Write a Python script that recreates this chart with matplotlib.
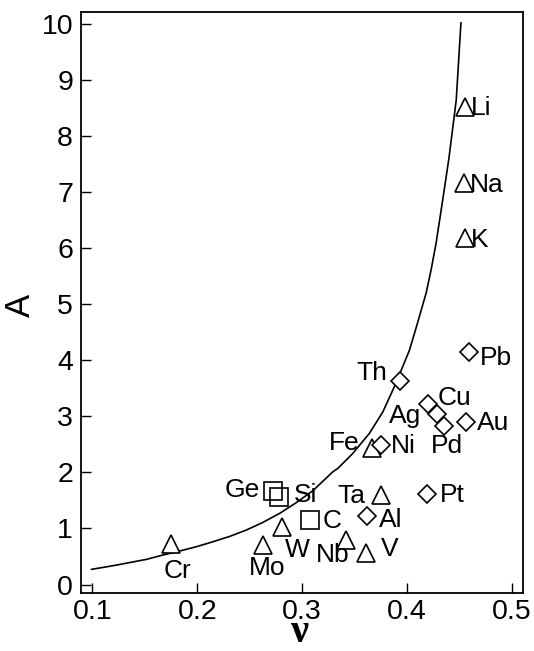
import matplotlib
matplotlib.use("Agg")
import matplotlib.pyplot as plt

# ---- data ----
# triangles
tri_names = ["Cr", "Mo", "W", "Nb", "V", "Ta", "Fe", "Li", "Na", "K"]
tri_nu = [0.1745, 0.263, 0.281, 0.342, 0.361, 0.375, 0.3665, 0.4555, 0.454, 0.4555]
tri_A = [0.72, 0.71, 1.02, 0.80, 0.57, 1.60, 2.43, 8.52, 7.17, 6.19]

# diamonds
dia_names = ["Pb", "Th", "Cu", "Ag", "Pd", "Au", "Ni", "Pt", "Al"]
dia_nu = [0.4588, 0.393, 0.4198, 0.4283, 0.4357, 0.4564, 0.3754, 0.419, 0.362]
dia_A = [4.15, 3.63, 3.22, 3.04, 2.83, 2.90, 2.49, 1.61, 1.23]

# squares
sq_names = ["Ge", "Si", "C"]
sq_nu = [0.272, 0.2775, 0.3076]
sq_A = [1.67, 1.57, 1.15]

# curve
curve_nu = [0.0992, 0.1198, 0.1516, 0.1659, 0.1833, 0.1992, 0.2151, 0.2310,
            0.2468, 0.2627, 0.2786, 0.2944, 0.3103, 0.3294, 0.334, 0.3484,
            0.3643, 0.377, 0.388, 0.396, 0.4024, 0.410, 0.4183, 0.423,
            0.4278, 0.4341, 0.440, 0.447, 0.4515]
curve_A = [0.271, 0.336, 0.449, 0.520, 0.598, 0.675, 0.764, 0.859,
           0.972, 1.109, 1.270, 1.460, 1.674, 2.013, 2.07, 2.34,
           2.70, 3.08, 3.53, 3.89, 4.18, 4.66, 5.20, 5.61,
           6.09, 6.86, 7.6, 8.64, 10.02]

x_ticks = [0.1, 0.2, 0.3, 0.4, 0.5]
x_ticklabels = ["0.1", "0.2", "0.3", "0.4", "0.5"]
y_ticks = list(range(0, 11))

# ---- label placement (offset pixels, ha) ----
tri_off = {"Cr": (6.5, -34.3, "center"), "Mo": (4.3, -30.5, "center"),
           "W": (2.5, -29.8, "left"), "Nb": (-13.4, -22.2, "center"),
           "V": (15, -3.9, "left"), "Ta": (-15.7, -7.7, "right"),
           "Fe": (-12.3, -1.7, "right"), "Li": (6, -8.3, "left"),
           "Na": (6, -9.2, "left"), "K": (6, -9.2, "left")}
dia_off = {"Pb": (11.5, -13.3, "left"), "Th": (-12, 1.3, "right"),
           "Cu": (9.5, -0.8, "left"), "Ag": (-15.5, -8.4, "right"),
           "Pd": (-13.8, -27.3, "left"), "Au": (11, -8.3, "left"),
           "Ni": (9.5, -8.3, "left"), "Pt": (13.5, -7.5, "left"),
           "Al": (12, -11.8, "left")}
sq_off = {"Ge": (-13.3, -6.5, "right"), "Si": (15.5, -5, "left"),
          "C": (12.3, -8.3, "left")}

fig = plt.figure(figsize=(5.34, 6.51), dpi=100)
ax = fig.add_axes([0.1511, 0.0886, 0.980 - 0.1511, 0.9811 - 0.0886])

lab_font = dict(family="Liberation Sans", fontsize=19, color="black")

ax.plot(curve_nu, curve_A, color="black", lw=1.2, zorder=2)

ax.plot(tri_nu, tri_A, linestyle="none", marker="^", markersize=13,
        markerfacecolor="white", markeredgecolor="black", markeredgewidth=1.2, zorder=3)
ax.plot(dia_nu, dia_A, linestyle="none", marker="D", markersize=8.7,
        markerfacecolor="white", markeredgecolor="black", markeredgewidth=1.2, zorder=3)
ax.plot(sq_nu, sq_A, linestyle="none", marker="s", markersize=13.5,
        markerfacecolor="none", markeredgecolor="black", markeredgewidth=1.2, zorder=3)

for names, xs, ys, offs in [(tri_names, tri_nu, tri_A, tri_off),
                             (dia_names, dia_nu, dia_A, dia_off),
                             (sq_names, sq_nu, sq_A, sq_off)]:
    for n, x, y in zip(names, xs, ys):
        dx, dy, ha = offs[n]
        ax.annotate(n, xy=(x, y), xytext=(dx, dy), textcoords="offset pixels",
                    ha=ha, va="baseline", zorder=4, **lab_font)

ax.set_xlim(0.0888, 0.511)
ax.set_ylim(-0.157, 10.209)
ax.set_xticks(x_ticks)
ax.set_xticklabels(x_ticklabels)
ax.set_yticks(y_ticks)
ax.tick_params(direction="in", length=7.2, width=1.0, top=False, right=False)
ax.tick_params(axis="x", pad=4)
ax.tick_params(axis="y", pad=5.5)
for lab in ax.get_xticklabels() + ax.get_yticklabels():
    lab.set_fontfamily("Liberation Sans")
    lab.set_fontsize(20.5)
for sp in ax.spines.values():
    sp.set_linewidth(1.3)

fig.text(20 / 534, 1 - 305 / 651, "A", rotation=90, ha="center", va="center",
         family="Liberation Sans", fontsize=25)
fig.text(300 / 534, 0.5 / 651, "ν", ha="center", va="bottom",
         family="Liberation Serif", fontweight="bold", fontsize=29)

fig.savefig("out.png", dpi=100)
